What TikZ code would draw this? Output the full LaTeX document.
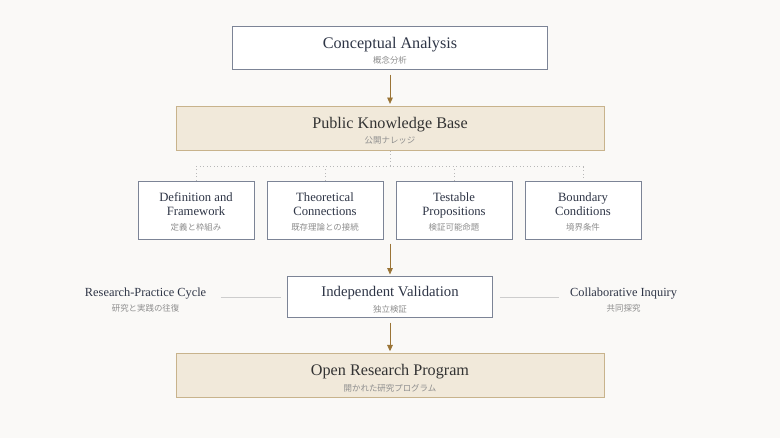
\documentclass[tikz,border=0pt]{standalone}
\usepackage{fontspec}
\setmainfont{Liberation Serif}
\newfontfamily\jpfont{Noto Sans CJK JP}
\usepackage{xcolor}
\usepackage{tikz}
\usetikzlibrary{positioning, arrows.meta}

\definecolor{pagebg}{HTML}{FAF9F7}
\definecolor{inkblue}{HTML}{2E3546}
\definecolor{framegray}{HTML}{7C8496}
\definecolor{sandfill}{HTML}{F1E9DA}
\definecolor{sandline}{HTML}{C8B38C}
\definecolor{subgray}{HTML}{8E8E8E}
\definecolor{arrowbrown}{HTML}{9A7436}
\definecolor{dotgray}{HTML}{B8B8B8}

\newcommand{\jsub}[1]{{\jpfont\fontsize{6}{7}\selectfont\color{subgray}#1}}
\newcommand{\bigtitle}[1]{{\fontsize{11.5}{13}\selectfont\rule{0pt}{11.5pt}#1}}

\begin{document}
\begin{tikzpicture}[on grid, auto,
    mainbox/.style={draw=framegray, line width=0.6pt, fill=white, inner sep=0pt,
        minimum width=7.875cm, minimum height=1.075cm, align=center, text=inkblue},
    basebox/.style={draw=sandline, line width=0.6pt, fill=sandfill, inner sep=0pt,
        minimum width=10.7cm, minimum height=1.1cm, align=center, text=black!80},
    topicbox/.style={draw=framegray, line width=0.6pt, fill=white, inner sep=0pt,
        minimum width=2.9cm, minimum height=1.45cm, align=center, text=inkblue,
        font=\fontsize{9}{10.3}\selectfont},
    sidelabel/.style={inner sep=0pt, align=center, text=inkblue,
        font=\fontsize{8.8}{10.7}\selectfont},
    flow/.style={draw=arrowbrown, line width=0.6pt,
        -{Triangle[length=4.5pt, width=4pt]}, shorten <=3pt, shorten >=1.5pt},
    dotline/.style={draw=dotgray, line width=0.5pt, dotted},
    sideline/.style={draw=dotgray!70, line width=0.5pt}]

    \fill[pagebg] (0,0) rectangle (19.5,-10.95);
    \useasboundingbox (0,0) rectangle (19.5,-10.95);

    \node[mainbox] (ca) at (9.75,-1.21)
        {\bigtitle{Conceptual Analysis}\\[-1pt]\jsub{概念分析}};
    \node[basebox] (kb) [below=2cm of ca]
        {\bigtitle{Public Knowledge Base}\\[-1pt]\jsub{公開ナレッジ}};

    \node[topicbox] (thy) [below left=2.04cm and 1.625cm of kb]
        {\rule{0pt}{9pt}Theoretical\\Connections\\\jsub{既存理論との接続}};
    \node[topicbox] (def) [left=3.225cm of thy]
        {\rule{0pt}{9pt}Definition and\\Framework\\\jsub{定義と枠組み}};
    \node[topicbox] (tst) [right=3.225cm of thy]
        {\rule{0pt}{9pt}Testable\\Propositions\\\jsub{検証可能命題}};
    \node[topicbox] (bnd) [right=3.225cm of tst]
        {\rule{0pt}{9pt}Boundary\\Conditions\\\jsub{境界条件}};

    \node[mainbox, minimum width=5.125cm, minimum height=1.025cm] (iv) [below=4.225cm of kb]
        {{\fontsize{10.5}{12}\selectfont\rule{0pt}{10.5pt}Independent Validation}\\[-1pt]\jsub{独立検証}};
    \node[basebox] (orp) [below=1.96cm of iv]
        {\bigtitle{Open Research Program}\\[-1pt]\jsub{開かれた研究プログラム}};

    \node[sidelabel] (rpc) [left=6.11cm of iv, yshift=-0.06cm]
        {Research-Practice Cycle\\\jsub{研究と実践の往復}};
    \node[sidelabel] (ci) [right=5.84cm of iv, yshift=-0.06cm]
        {Collaborative Inquiry\\\jsub{共同探究}};

    % dotted fan-out from the knowledge base
    \coordinate (bus) at ([yshift=-0.4cm]kb.south);
    \draw[dotline] (kb.south) -- (bus);
    \draw[dotline] (def.north) -- (def.north |- bus) -- (bnd.north |- bus) -- (bnd.north);
    \draw[dotline] (thy.north) -- (thy.north |- bus);
    \draw[dotline] (tst.north) -- (tst.north |- bus);

    \draw[flow] (ca) -- (kb);
    \draw[flow] (kb |- def.south) -- (iv);
    \draw[flow] (iv) -- (orp);

    \draw[sideline] ([xshift=10pt]rpc.east |- iv.west) -- ([xshift=-4pt]iv.west);
    \draw[sideline] ([xshift=5pt]iv.east) -- ([xshift=-8pt]ci.west |- iv.east);
\end{tikzpicture}
\end{document}
